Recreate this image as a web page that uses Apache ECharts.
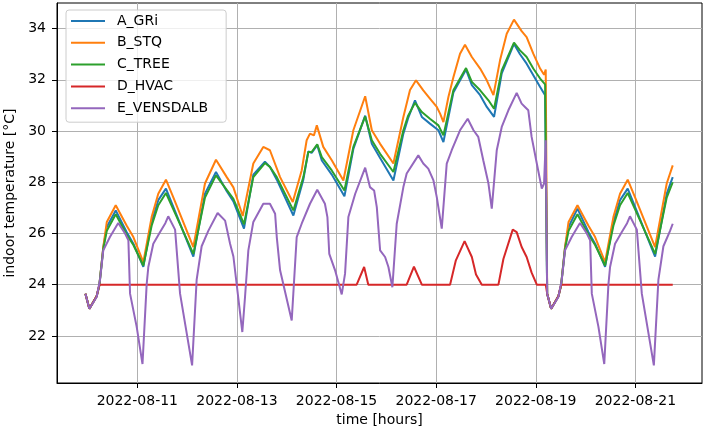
<!DOCTYPE html>
<html>
<head>
<meta charset="utf-8">
<script src="https://cdn.jsdelivr.net/npm/echarts@6/dist/echarts.min.js"></script>
<style>
  html, body { margin: 0; padding: 0; background: #fff; }
  #chart { width: 704px; height: 428px; }
</style>
</head>
<body>
<div id="chart"></div>
<script>
// x values are hours counted from 2022-08-09 00:00
const xTickHours = [48, 96, 144, 192, 240, 288]
const xTickLabels = ['2022-08-11', '2022-08-13', '2022-08-15', '2022-08-17', '2022-08-19', '2022-08-21']
const yTicks = [22, 24, 26, 28, 30, 32, 34]

const seriesNames = ['A_GRi', 'B_STQ', 'C_TREE', 'D_HVAC', 'E_VENSDALB']
const colors = ['#1f77b4', '#ff7f0e', '#2ca02c', '#d62728', '#9467bd']

const hoursA = [23, 24.9, 28.4, 29.7, 31.6, 33.3, 37.6, 42.9, 46.1, 50.9, 54.9, 58.1, 61.8, 65.3, 75.0, 80.6, 85.9, 91.1, 94.3, 99.4, 103.9, 109.5, 111.9, 115.2, 123.2, 128.0, 130.4, 132.0, 134.7, 136.9, 141.7, 147.8, 152.1, 157.8, 161.0, 165.0, 171.4, 176.2, 178.5, 181.8, 185.1, 189.0, 193.1, 195.5, 200.3, 206.4, 209.2, 213.2, 216.4, 219.9, 223.6, 229.5, 232.4, 235.6, 242.1, 244.5, 244.8, 245.5, 247.4, 250.9, 252.2, 254.1, 255.8, 260.1, 265.4, 268.6, 273.4, 277.4, 280.6, 284.3, 287.8, 297.5, 303.1, 306]
const tempA = [23.65, 23.06, 23.55, 23.97, 25.45, 26.25, 26.9, 26.05, 25.6, 24.7, 26.45, 27.3, 27.75, 27.05, 25.1, 27.55, 28.4, 27.65, 27.25, 26.19, 28.3, 28.8, 28.6, 28.1, 26.7, 28.1, 29.2, 29.15, 29.45, 28.85, 28.3, 27.45, 29.3, 30.6, 29.5, 28.95, 28.07, 29.9, 30.5, 31.2, 30.55, 30.29, 30.03, 29.57, 31.5, 32.4, 31.79, 31.4, 30.94, 30.55, 32.25, 33.4, 33.0, 32.63, 31.72, 31.4, 31.33, 23.65, 23.06, 23.55, 23.97, 25.45, 26.25, 26.97, 26.05, 25.6, 24.7, 26.45, 27.3, 27.75, 27.05, 25.1, 27.55, 28.2]

const hoursB = [23, 24.9, 28.4, 29.7, 31.6, 33.3, 37.6, 42.9, 46.1, 50.9, 54.9, 58.1, 61.8, 65.3, 75.0, 80.6, 85.9, 91.1, 94.3, 98.8, 103.9, 108.7, 111.9, 116.8, 122.9, 127.2, 129.6, 131.2, 133.1, 134.5, 137.6, 141.7, 147.3, 152.1, 157.8, 161.0, 165.0, 171.4, 176.2, 179.4, 182.3, 185.8, 189.0, 192.3, 193.9, 195.5, 197.9, 200.3, 203.5, 205.9, 209.2, 213.2, 216.4, 219.6, 222.8, 226.0, 229.5, 233.2, 235.6, 238.8, 242.1, 244.0, 244.8, 245.5, 247.4, 250.9, 252.2, 254.1, 255.8, 260.1, 265.4, 268.6, 273.4, 277.4, 280.6, 284.3, 287.8, 297.5, 303.1, 306]
const tempB = [23.65, 23.06, 23.55, 23.97, 25.47, 26.45, 27.1, 26.3, 25.86, 24.88, 26.64, 27.55, 28.1, 27.42, 25.47, 27.95, 28.88, 28.2, 27.8, 26.68, 28.73, 29.38, 29.25, 28.2, 27.23, 28.46, 29.64, 29.9, 29.83, 30.22, 29.38, 28.86, 28.07, 30.03, 31.36, 30.03, 29.5, 28.73, 30.55, 31.6, 31.98, 31.59, 31.27, 30.94, 30.68, 30.35, 31.33, 32.1, 33.02, 33.37, 32.89, 32.44, 31.98, 31.4, 32.77, 33.8, 34.35, 33.9, 33.67, 33.02, 32.44, 32.2, 32.4, 23.65, 23.06, 23.55, 23.97, 25.47, 26.45, 27.1, 26.3, 25.86, 24.88, 26.64, 27.55, 28.1, 27.42, 25.47, 27.95, 28.66]

const hoursC = [23, 24.9, 28.4, 29.7, 31.6, 33.3, 37.6, 42.9, 46.1, 50.9, 54.9, 58.1, 61.8, 65.3, 75.0, 80.6, 85.9, 91.1, 94.3, 99.4, 103.9, 109.5, 111.9, 115.2, 123.2, 128.0, 130.4, 132.0, 134.7, 136.9, 141.7, 147.8, 152.1, 157.8, 161.0, 165.0, 171.4, 176.2, 178.5, 181.8, 185.1, 189.0, 193.1, 195.5, 200.3, 206.4, 209.2, 213.2, 217.2, 219.9, 223.6, 229.5, 232.4, 235.6, 238.8, 242.1, 244.5, 244.8, 245.5, 247.4, 250.9, 252.2, 254.1, 255.8, 260.1, 265.4, 268.6, 273.4, 277.4, 280.6, 284.3, 287.8, 297.5, 303.1, 306]
const tempC = [23.65, 23.06, 23.55, 23.97, 25.4, 26.1, 26.75, 25.95, 25.55, 24.75, 26.3, 27.1, 27.58, 26.95, 25.2, 27.4, 28.27, 27.7, 27.35, 26.36, 28.2, 28.75, 28.6, 28.2, 26.9, 28.2, 29.18, 29.18, 29.48, 28.98, 28.46, 27.68, 29.38, 30.57, 29.64, 29.11, 28.4, 30.03, 30.6, 31.1, 30.74, 30.48, 30.22, 29.83, 31.59, 32.46, 31.92, 31.59, 31.2, 30.87, 32.37, 33.45, 33.15, 32.89, 32.44, 32.05, 31.82, 31.75, 23.65, 23.06, 23.55, 23.97, 25.4, 26.1, 26.75, 25.95, 25.55, 24.75, 26.3, 27.1, 27.58, 26.95, 25.2, 27.4, 28.0]

const hoursD = [23, 24.9, 28.4, 29.7, 153.7, 157.3, 159.3, 177.8, 181.3, 185.1, 198.7, 201.5, 205.7, 209.2, 211.2, 214.0, 222.0, 224.4, 228.9, 230.8, 233.2, 235.6, 238.0, 240.5, 244.8, 245.5, 247.4, 250.9, 252.2, 306]
const tempD = [23.65, 23.06, 23.55, 24.0, 24.0, 24.69, 24.0, 24.0, 24.7, 24.0, 24.0, 24.95, 25.7, 25.08, 24.4, 24.0, 24.0, 25.0, 26.15, 26.05, 25.47, 25.08, 24.47, 24.0, 24.0, 23.65, 23.06, 23.55, 24.0, 24.0]

const hoursE = [23, 24.9, 28.4, 30.0, 31.6, 34.8, 38.8, 42.1, 43.7, 44.5, 47.7, 50.5, 52.5, 53.3, 55.7, 58.9, 61.5, 62.9, 66.2, 68.6, 74.4, 76.6, 79.0, 82.2, 86.7, 90.3, 92.7, 94.3, 98.6, 99.9, 101.5, 103.9, 108.7, 111.9, 114.4, 115.2, 116.8, 122.4, 124.8, 127.2, 131.2, 134.7, 138.4, 139.6, 140.5, 143.3, 146.5, 148.1, 149.7, 153.0, 157.8, 160.1, 162.1, 163.4, 165.0, 167.4, 169.0, 170.9, 173.0, 176.2, 177.8, 183.4, 185.8, 188.2, 190.7, 192.3, 194.7, 197.1, 199.5, 203.5, 207.2, 210.0, 212.3, 214.7, 217.2, 218.8, 221.2, 223.6, 226.8, 230.8, 233.2, 234.8, 236.4, 238.0, 240.5, 242.9, 244.0, 244.8, 245.5, 247.4, 250.9, 252.5, 254.1, 257.3, 261.3, 264.6, 266.2, 267.0, 270.2, 273.0, 275.0, 275.8, 278.2, 281.4, 284.0, 285.4, 288.7, 291.1, 296.9, 299.1, 301.5, 304.7, 306]
const tempE = [23.65, 23.06, 23.52, 24.17, 25.34, 25.86, 26.41, 26.0, 25.73, 23.65, 22.35, 20.9, 24.0, 24.69, 25.6, 26.05, 26.4, 26.67, 26.15, 23.65, 20.85, 24.2, 25.5, 26.1, 26.8, 26.5, 25.6, 25.1, 22.15, 23.52, 25.34, 26.45, 27.16, 27.16, 26.77, 25.86, 24.56, 22.6, 25.86, 26.38, 27.16, 27.71, 27.16, 26.64, 25.2, 24.56, 23.62, 24.43, 26.64, 27.55, 28.57, 27.81, 27.68, 27.03, 25.34, 25.08, 24.69, 23.9, 26.38, 27.81, 28.34, 29.05, 28.73, 28.53, 28.07, 27.42, 26.19, 28.73, 29.25, 30.03, 30.48, 30.03, 29.77, 28.86, 27.95, 26.97, 29.25, 30.16, 30.81, 31.49, 31.07, 30.94, 30.81, 29.77, 28.73, 27.75, 27.95, 29.64, 23.65, 23.06, 23.52, 24.17, 25.34, 25.86, 26.41, 26.0, 25.73, 23.65, 22.35, 20.9, 24.0, 24.69, 25.6, 26.05, 26.4, 26.67, 26.15, 23.65, 20.85, 24.2, 25.5, 26.1, 26.38]

const font = 'DejaVu Sans'
const seriesHours = [hoursA, hoursB, hoursC, hoursD, hoursE]
const seriesTemps = [tempA, tempB, tempC, tempD, tempE]

const chart = echarts.init(document.getElementById('chart'), null, { renderer: 'canvas' })

const series = seriesNames.map((name, i) => ({
  name: name,
  type: 'line',
  data: seriesHours[i].map((h, k) => [h, seriesTemps[i][k]]),
  showSymbol: false,
  color: colors[i],
  lineStyle: { width: 2, color: colors[i] },
  animation: false,
}))

const option = {
  animation: false,
  grid: {
    left: 57, right: 2, top: 3, bottom: 45,
    outerBoundsMode: 'none',
    show: true, borderColor: '#000', borderWidth: 1,
  },
  legend: {
    orient: 'vertical',
    left: 66,
    top: 10,
    data: seriesNames,
    icon: 'rect',
    itemWidth: 34,
    itemHeight: 2,
    itemGap: 5.8,
    padding: [3, 18, 6, 5],
    backgroundColor: 'rgba(255,255,255,0.8)',
    borderColor: '#cccccc',
    borderWidth: 1,
    borderRadius: 3,
    textStyle: { fontFamily: font, fontSize: 14, color: '#000', lineHeight: 16, padding: [0, 0, 0, 7] },
  },
  xAxis: {
    type: 'value',
    min: 9.3,
    max: 320.1,
    name: 'time [hours]',
    nameLocation: 'middle',
    nameGap: 29,
    nameTextStyle: { fontFamily: font, fontSize: 14, color: '#000' },
    axisLine: { show: true, lineStyle: { color: '#000', width: 1 } },
    axisTick: { show: true, length: 5, customValues: xTickHours, lineStyle: { color: '#000', width: 1 } },
    axisLabel: {
      customValues: xTickHours,
      formatter: v => xTickLabels[xTickHours.indexOf(v)],
      fontFamily: font, fontSize: 14, color: '#000', margin: 11,
    },
    splitLine: { show: true, lineStyle: { color: '#b0b0b0', width: 1 } },
  },
  yAxis: {
    type: 'value',
    min: 20.16,
    max: 35.0,
    name: 'indoor temperature [°C]',
    nameLocation: 'middle',
    nameGap: 40,
    nameTextStyle: { fontFamily: font, fontSize: 14, color: '#000' },
    axisLine: { show: true, lineStyle: { color: '#000', width: 1 } },
    axisTick: { show: true, length: 5, customValues: yTicks, lineStyle: { color: '#000', width: 1 } },
    axisLabel: { customValues: yTicks, fontFamily: font, fontSize: 14, color: '#000', margin: 11 },
    splitLine: { show: true, lineStyle: { color: '#b0b0b0', width: 1 } },
  },
  series: series,
}

chart.setOption(option)
</script>
</body>
</html>
